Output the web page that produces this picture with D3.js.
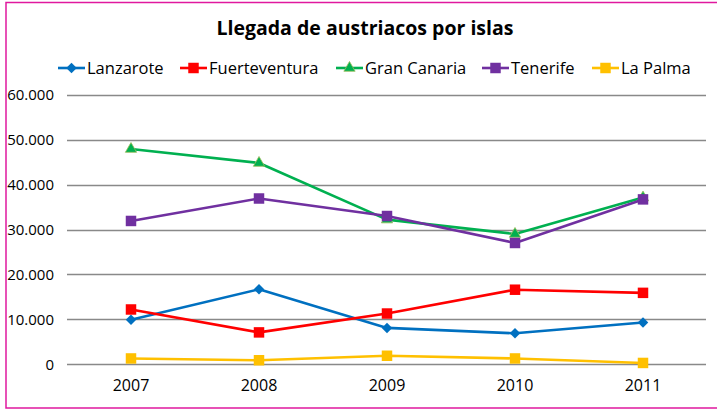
<!DOCTYPE html>
<html>
<head>
<meta charset="utf-8">
<script src="https://cdn.jsdelivr.net/npm/d3@7"></script>
<style>
  body { margin: 0; background: #fff; }
  svg text { font-family: "Open Sans", "Noto Sans", sans-serif; fill: #000; }
</style>
</head>
<body>
<div id="chart"></div>
<script>
// data
const years = ["2007", "2008", "2009", "2010", "2011"];
const islands = ["Lanzarote", "Fuerteventura", "Gran Canaria", "Tenerife", "La Palma"];
const lanzarote = [9900, 16700, 8100, 6900, 9300];
const fuerteventura = [12200, 7100, 11300, 16600, 15900];
const granCanaria = [47900, 44800, 32200, 29000, 37100];
const tenerife = [31900, 36900, 33000, 27000, 36700];
const laPalma = [1300, 900, 1900, 1300, 300];
const yTicks = [0, 10000, 20000, 30000, 40000, 50000, 60000];

function drawChart() {
    const div_id = "#chart";
    let width = 717;
    let height = 409;

    const colors = ["#0070c0", "#ff0000", "#00b050", "#7030a0", "#ffc000"];
    const shapes = ["diamond", "square", "triangle", "square", "square"];
    const seriesValues = [lanzarote, fuerteventura, granCanaria, tenerife, laPalma];

    const series = islands.map(function (name, i) {
        return { name: name, color: colors[i], shape: shapes[i], values: seriesValues[i] };
    });

    const svg = d3.select(div_id)
        .append("svg")
        .attr("width", width)
        .attr("height", height);

    // border
    svg.append("path")
        .attr("d", "M 740 2.5 H 6 V 408 H 740")
        .attr("fill", "none")
        .attr("stroke", "#e0189e")
        .attr("stroke-width", 1.5);

    const x = d3.scaleBand()
        .domain(years)
        .range([67, 707]);

    const y = d3.scaleLinear()
        .domain([0, 60000])
        .range([364.3, 94.7]);

    // gridlines
    svg.append("g")
        .selectAll("line")
        .data(yTicks)
        .join("line")
        .attr("x1", 67)
        .attr("x2", 706)
        .attr("y1", d => Math.round(y(d)) + 0.5)
        .attr("y2", d => Math.round(y(d)) + 0.5)
        .attr("stroke", "#898989")
        .attr("stroke-width", 1.3);

    const fmt = function (d) {
        return d === 0 ? "0" : d3.format(",")(d).replace(/,/g, ".");
    };

    // y labels
    svg.append("g")
        .selectAll("text")
        .data(yTicks)
        .join("text")
        .attr("x", 54)
        .attr("y", d => y(d) + 5.5)
        .attr("text-anchor", "end")
        .style("font-size", "15px")
        .text(fmt);

    // x labels
    svg.append("g")
        .selectAll("text")
        .data(years)
        .join("text")
        .attr("x", d => x(d) + x.bandwidth() / 2)
        .attr("y", 391)
        .attr("text-anchor", "middle")
        .style("font-size", "16px")
        .text(d => d);

    const line = d3.line()
        .x((d, i) => x(years[i]) + x.bandwidth() / 2)
        .y(d => y(d));

    const symbolFor = function (shape) {
        if (shape === "diamond") return d3.symbol().type(d3.symbolDiamond2).size(70)();
        if (shape === "triangle") return d3.symbol().type(d3.symbolTriangle).size(55)();
        return d3.symbol().type(d3.symbolSquare).size(110)();
    };

    const groups = svg.append("g")
        .selectAll("g")
        .data(series)
        .join("g");

    groups.append("path")
        .attr("d", d => line(d.values))
        .attr("fill", "none")
        .attr("stroke", d => d.color)
        .attr("stroke-width", 2.6)
        .attr("stroke-linejoin", "round");

    groups.each(function (s) {
        d3.select(this)
            .selectAll("path.marker")
            .data(s.values)
            .join("path")
            .attr("class", "marker")
            .attr("d", symbolFor(s.shape))
            .attr("transform", (d, i) => "translate(" + (x(years[i]) + x.bandwidth() / 2) + "," + y(d) + ")")
            .attr("fill", s.color)
            .attr("stroke", s.shape === "triangle" ? "#9bbb59" : "none")
            .attr("stroke-width", 0.8);
    });

    // title
    svg.append("text")
        .attr("x", 365)
        .attr("y", 35)
        .attr("text-anchor", "middle")
        .style("font-size", "19.5px")
        .style("font-weight", "bold")
        .text("Llegada de austriacos por islas");

    // legend
    const legendX = [58, 180, 336, 482, 592];
    const legend = svg.append("g")
        .selectAll("g")
        .data(series)
        .join("g")
        .attr("transform", (d, i) => "translate(" + legendX[i] + ",68)");

    legend.append("line")
        .attr("x1", 0)
        .attr("x2", 27)
        .attr("stroke", d => d.color)
        .attr("stroke-width", 2.6);

    legend.append("path")
        .attr("d", d => symbolFor(d.shape))
        .attr("transform", "translate(13.5,0)")
        .attr("fill", d => d.color)
        .attr("stroke", d => d.shape === "triangle" ? "#9bbb59" : "none")
        .attr("stroke-width", 0.8);

    legend.append("text")
        .attr("x", 29)
        .attr("y", 6)
        .style("font-size", "16.5px")
        .text(d => d.name);
}
drawChart();
</script>
</body>
</html>
